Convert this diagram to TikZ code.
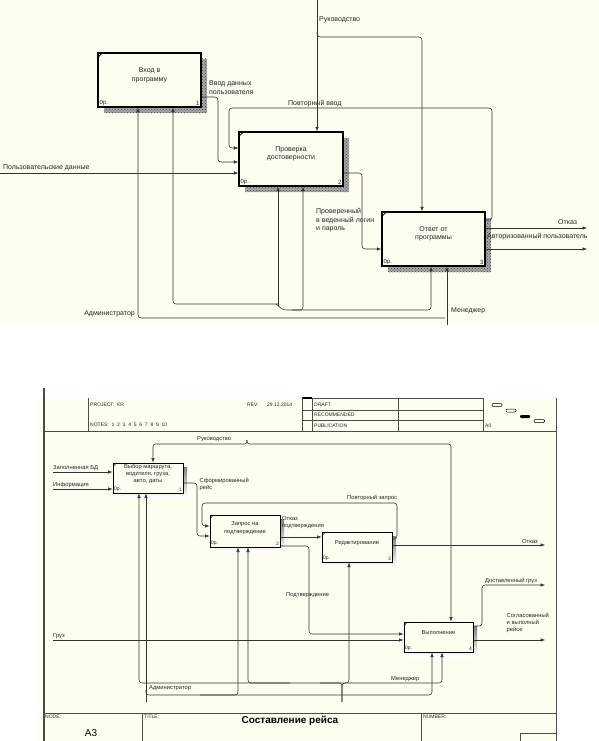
\documentclass[tikz,border=0pt]{standalone}
\usepackage{fontspec}
\setmainfont{Liberation Sans}
\usetikzlibrary{arrows.meta,patterns}
\definecolor{cream}{HTML}{FFFCF0}
\definecolor{shade}{HTML}{BDBDBD}
\begin{document}
\begin{tikzpicture}[x=1pt,y=-1pt,
  tbox/.style={draw=black, line width=1.2pt, fill=cream, inner sep=0pt},
  bbox/.style={draw=black, line width=1pt, fill=cream, inner sep=0pt},
  arr/.style={-{Latex[length=4.5pt,width=3.5pt]}, line width=0.55pt, draw=black!80},
  ln/.style={line width=0.55pt, draw=black!80},
  frm/.style={line width=0.6pt, draw=black!70},
  lbl/.style={font=\fontsize{7}{8.5}\selectfont, inner sep=0pt, text=black!85},
  slbl/.style={font=\fontsize{5.8}{7.2}\selectfont, inner sep=0pt, text=black!85},
  hlbl/.style={font=\fontsize{5}{6}\selectfont, inner sep=0pt, text=black!85},
  tshadow/.style={fill=black!35},
  tpat/.style={pattern=crosshatch dots, pattern color=black!70},
  tick/.style={line width=0.7pt, draw=black}
]
\useasboundingbox (0,0) rectangle (599,741);
\fill[white] (0,0) rectangle (599,741);

% ================= TOP DIAGRAM =================
\fill[cream] (0,0) rectangle (599,325);

% box 1
\fill[tshadow] (104,59) rectangle (207,113);
\fill[tpat] (104,59) rectangle (207,113);
\node[tbox, minimum width=103pt, minimum height=54pt] (b1) at (149.5,80) {};
\node[lbl, align=center] (b1t) at (149.5,75.5) {Вход в\\программу};
\node[hlbl, font=\fontsize{6}{7}\selectfont, anchor=south west] (b1c) at ([xshift=2pt,yshift=2pt]b1.south west) {0р.};
\node[hlbl, font=\fontsize{6}{7}\selectfont, anchor=south east] (b1n) at ([xshift=-2pt,yshift=2pt]b1.south east) {1};
\draw[tick] ([xshift=0.6pt,yshift=-5pt]b1.north west) -- ([xshift=5pt,yshift=-0.6pt]b1.north west);

% box 2
\fill[tshadow] (245,138) rectangle (349,192);
\fill[tpat] (245,138) rectangle (349,192);
\node[tbox, minimum width=104pt, minimum height=54pt] (b2) at (291,159) {};
\node[lbl, align=center] (b2t) at (291,154) {Проверка\\достоверности};
\node[hlbl, font=\fontsize{6}{7}\selectfont, anchor=south west] (b2c) at ([xshift=2pt,yshift=2pt]b2.south west) {0р.};
\node[hlbl, font=\fontsize{6}{7}\selectfont, anchor=south east] (b2n) at ([xshift=-2pt,yshift=2pt]b2.south east) {2};
\draw[tick] ([xshift=0.6pt,yshift=-5pt]b2.north west) -- ([xshift=5pt,yshift=-0.6pt]b2.north west);

% box 3
\fill[tshadow] (388,218) rectangle (491,272);
\fill[tpat] (388,218) rectangle (491,272);
\node[tbox, minimum width=103pt, minimum height=54pt] (b3) at (433.5,239) {};
\node[lbl, align=center] (b3t) at (433.5,234) {Ответ от\\программы};
\node[hlbl, font=\fontsize{6}{7}\selectfont, anchor=south west] (b3c) at ([xshift=2pt,yshift=2pt]b3.south west) {0р.};
\node[hlbl, font=\fontsize{6}{7}\selectfont, anchor=south east] (b3n) at ([xshift=-2pt,yshift=2pt]b3.south east) {3};
\draw[tick] ([xshift=0.6pt,yshift=-5pt]b3.north west) -- ([xshift=5pt,yshift=-0.6pt]b3.north west);

% connectors
\draw[arr] (0,173) -- (b2.west |- 0,173);
\node[lbl, anchor=south west] (l1) at (3,171) {Пользовательские данные};

\draw[arr, rounded corners=3] (b1.east |- 0,97) -- (218,97) -- (218,162) -- (b2.west |- 0,162);
\node[lbl, anchor=north west, align=left] (l2) at (209,80.5) {Ввод данных\\пользователя};

\draw[arr, rounded corners=3] (b3.east |- 0,220) -- (492,220) -- (492,108) -- (229,108) -- (229,148) -- (b2.west |- 0,148);
\node[lbl, anchor=west] (l3) at (288,103.5) {Повторный ввод};

\draw[arr] (317,0) -- (317,0 |- b2.north);
\draw[arr, rounded corners=3] (317,33) -- (317,37) -- (422,37) -- (422,0 |- b3.north);
\node[lbl, anchor=west] (l4) at (319,20) {Руководство};

\draw[arr, rounded corners=3] (b2.east |- 0,173) -- (362,173) -- (362,249) -- (b3.west |- 0,249);
\node[lbl, anchor=north west, align=left] (l5) at (316,208.5) {Проверенный\\в веденный логин\\и пароль};

\draw[arr] (b3.east |- 0,228) -- (587,228);
\node[lbl, anchor=west] (l6) at (558,222) {Отказ};
\draw[arr] (b3.east |- 0,249) -- (587,249);
\node[lbl, anchor=west] (l7) at (487,237) {Авторизованный пользователь};

\draw[arr, rounded corners=3] (445,318) -- (138,318) -- (b1.south -| 138,0);
\node[lbl, anchor=east] (l8) at (135,314) {Администратор};
\draw[arr] (447,325) -- (447,0 |- b3.south);
\node[lbl, anchor=west] (l9) at (451,311) {Менеджер};

\draw[arr, rounded corners=3] (278,304) -- (173,304) -- (173,0 |- b1.south);
\draw[arr, rounded corners=3] (278,306) -- (278,0 |- b2.south);
\draw[arr, rounded corners=3] (276,304) -- (283,310) -- (431,310) -- (431,0 |- b3.south);
\draw[arr, rounded corners=3] (292,310) -- (303,310) -- (303,0 |- b2.south);

% ================= BOTTOM DIAGRAM =================
\fill[cream] (38,398) rectangle (556,741);
\draw[line width=1.4pt, draw=black!70] (44,388) -- (44,741);
\draw[frm] (556,398) -- (556,741);
% header
\draw[frm] (88,398) -- (88,431);
\draw[frm] (302,398) -- (483,398);
\draw[line width=2pt] (302,398) -- (312,398);
\draw[frm] (302,398) -- (302,431);
\draw[frm] (312,398) -- (312,431);
\draw[frm] (398,398) -- (398,431);
\draw[frm] (483,398) -- (483,431);
\draw[frm] (302,410) -- (483,410);
\draw[frm] (302,420) -- (483,420);
\draw[frm] (44,431) -- (556,431);
\node[hlbl, anchor=west] (hp) at (90,405) {PROJECT:\ \ KR};
\node[hlbl, anchor=west] (hr) at (247,405) {REV:};
\node[hlbl, anchor=west] (hd) at (267,405) {29.12.2014};
\node[hlbl, anchor=west] (hn) at (90,425) {NOTES:\ \ 1\ \ 2\ \ 3\ \ 4\ \ 5\ \ 6\ \ 7\ \ 8\ \ 9\ \ 10};
\node[hlbl, anchor=west] (hdr) at (314,404.5) {DRAFT};
\node[hlbl, anchor=west] (hrc) at (314,415) {RECOMMENDED};
\node[hlbl, anchor=west] (hpb) at (314,425.5) {PUBLICATION};
\node[hlbl, anchor=west] (ha0) at (485,425.5) {A0};
\draw[line width=0.5pt, rounded corners=1] (492,403.5) rectangle (502,406.5);
\draw[line width=0.5pt, rounded corners=1] (506,409) rectangle (516,412);
\fill[black, rounded corners=1] (520,415) rectangle (530,418);
\draw[line width=0.5pt, rounded corners=1] (534,419.5) rectangle (544.5,422.5);
% footer
\draw[frm] (44,713) -- (556,713);
\draw[frm] (142,713) -- (142,741);
\draw[frm] (421,713) -- (421,741);
\draw[frm] (520,741) -- (520,733) -- (556,733);
\node[hlbl, anchor=west] (fn) at (45,716.5) {NODE:};
\node[hlbl, anchor=west] (ft) at (144,716.5) {TITLE:};
\node[hlbl, anchor=west] (fnum) at (423,716.5) {NUMBER:};
\node[inner sep=0pt, font=\fontsize{10}{12}\selectfont] (fa3) at (91,733) {A3};
\node[inner sep=0pt, font=\fontsize{10}{12}\selectfont\bfseries] (ftt) at (290,720.5) {Составление рейса};

% boxes
\fill[shade] (117,467) rectangle (187,497);
\node[bbox, minimum width=70pt, minimum height=30pt] (B1) at (148,478) {};
\node[slbl, align=center] (B1t) at (148,474) {Выбор маршрута,\\водителя, груза,\\авто, даты};
\node[hlbl, anchor=south west] (B1c) at ([xshift=1.5pt,yshift=1.5pt]B1.south west) {0р.};
\node[hlbl, anchor=south east] (B1n) at ([xshift=-1.5pt,yshift=1.5pt]B1.south east) {1};
\draw[tick, line width=0.6pt] ([xshift=0.5pt,yshift=-4pt]B1.north west) -- ([xshift=4pt,yshift=-0.5pt]B1.north west);

\fill[shade] (214,519) rectangle (284,551);
\node[bbox, minimum width=70pt, minimum height=32pt] (B2) at (245,531) {};
\node[slbl, align=center] (B2t) at (245,528) {Запрос на\\подтверждение};
\node[hlbl, anchor=south west] (B2c) at ([xshift=1.5pt,yshift=1.5pt]B2.south west) {0р.};
\node[hlbl, anchor=south east] (B2n) at ([xshift=-1.5pt,yshift=1.5pt]B2.south east) {2};
\draw[tick, line width=0.6pt] ([xshift=0.5pt,yshift=-4pt]B2.north west) -- ([xshift=4pt,yshift=-0.5pt]B2.north west);

\fill[shade] (326,536) rectangle (396,566);
\node[bbox, minimum width=70pt, minimum height=30pt] (B3) at (357,547) {};
\node[slbl, align=center] (B3t) at (357,543) {Редактирование};
\node[hlbl, anchor=south west] (B3c) at ([xshift=1.5pt,yshift=1.5pt]B3.south west) {0р.};
\node[hlbl, anchor=south east] (B3n) at ([xshift=-1.5pt,yshift=1.5pt]B3.south east) {3};
\draw[tick, line width=0.6pt] ([xshift=0.5pt,yshift=-4pt]B3.north west) -- ([xshift=4pt,yshift=-0.5pt]B3.north west);

\fill[shade] (408,626) rectangle (477,656);
\node[bbox, minimum width=69pt, minimum height=30pt] (B4) at (438.5,637) {};
\node[slbl, align=center] (B4t) at (438.5,633) {Выполнение};
\node[hlbl, anchor=south west] (B4c) at ([xshift=1.5pt,yshift=1.5pt]B4.south west) {0р.};
\node[hlbl, anchor=south east] (B4n) at ([xshift=-1.5pt,yshift=1.5pt]B4.south east) {4};
\draw[tick, line width=0.6pt] ([xshift=0.5pt,yshift=-4pt]B4.north west) -- ([xshift=4pt,yshift=-0.5pt]B4.north west);

% inputs
\draw[arr] (53,472) -- (B1.west |- 0,472);
\node[slbl, anchor=south west] (m1) at (53,470.5) {Заполненная БД};
\draw[arr] (53,489) -- (B1.west |- 0,489);
\node[slbl, anchor=south west] (m2) at (53,487.5) {Информация};

% control
\draw[arr, rounded corners=2.5] (247,440) -- (247,444) -- (153,444) -- (153,0 |- B1.north);
\draw[arr, rounded corners=2.5] (247,440) -- (247,444) -- (451,444) -- (451,0 |- B4.north);
\node[slbl, anchor=south west] (m3) at (197,441.5) {Руководство};

% Сформированный рейс
\draw[arr, rounded corners=3] (B1.east |- 0,483) -- (197,483) -- (197,536) -- (B2.west |- 0,536);
\node[slbl, anchor=north west, align=left] (m4) at (199.5,478) {Сформированный\\рейс};

% Повторный запрос
\draw[arr, rounded corners=3] (B3.east |- 0,539) -- (397,539) -- (397,503) -- (202,503) -- (202,526) -- (B2.west |- 0,526);
\node[slbl, anchor=west] (m5) at (347,497.5) {Повторный запрос};

% Отказ подтверждения
\draw[arr] (B2.east |- 0,537) -- (B3.west |- 0,537);
\node[slbl, anchor=north west, align=left] (m6) at (282,516.5) {Отказ\\подтверждения};

% Подтверждение
\draw[arr, rounded corners=3] (B2.east |- 0,546) -- (309,546) -- (309,634) -- (B4.west |- 0,634);
\node[slbl, anchor=west] (m7) at (286,595) {Подтверждение};

% Отказ
\draw[arr] (B3.east |- 0,545) -- (545,545);
\node[slbl, anchor=west] (m8) at (522,541.5) {Отказ};

% Груз
\draw[arr] (53,640) -- (B4.west |- 0,640);
\node[slbl, anchor=south west] (m9) at (53,638.5) {Груз};

% outputs of B4
\draw[arr, rounded corners=3] (B4.east |- 0,626) -- (482,626) -- (482,585) -- (545,585);
\node[slbl, anchor=west] (m10) at (485,580.5) {Доставленный груз};
\draw[arr] (B4.east |- 0,640) -- (545,640);
\node[slbl, anchor=north west, align=left] (m11) at (506.5,613) {Согласованный\\и выполный\\рейсе};

% mechanisms: Администратор
\draw[arr] (146,702) -- (146,0 |- B1.south);
\draw[arr, rounded corners=3] (146,690) -- (146,695) -- (432,695) -- (432,0 |- B4.south);
\draw[arr, rounded corners=3] (200,695) -- (238,695) -- (238,0 |- B2.south);
\node[slbl, anchor=west] (m12) at (149,688.5) {Администратор};

% mechanisms: Менеджер
\draw[arr, rounded corners=3] (342,702) -- (342,683) -- (139,683) -- (139,0 |- B1.south);
\draw[arr, rounded corners=3] (342,702) -- (342,683) -- (442,683) -- (442,0 |- B4.south);
\draw[arr, rounded corners=3] (290,683) -- (248,683) -- (248,0 |- B2.south);
\draw[arr, rounded corners=3] (320,683) -- (349,683) -- (349,0 |- B3.south);
\node[slbl, anchor=west] (m13) at (391,679) {Менеджер};
\end{tikzpicture}
\end{document}
